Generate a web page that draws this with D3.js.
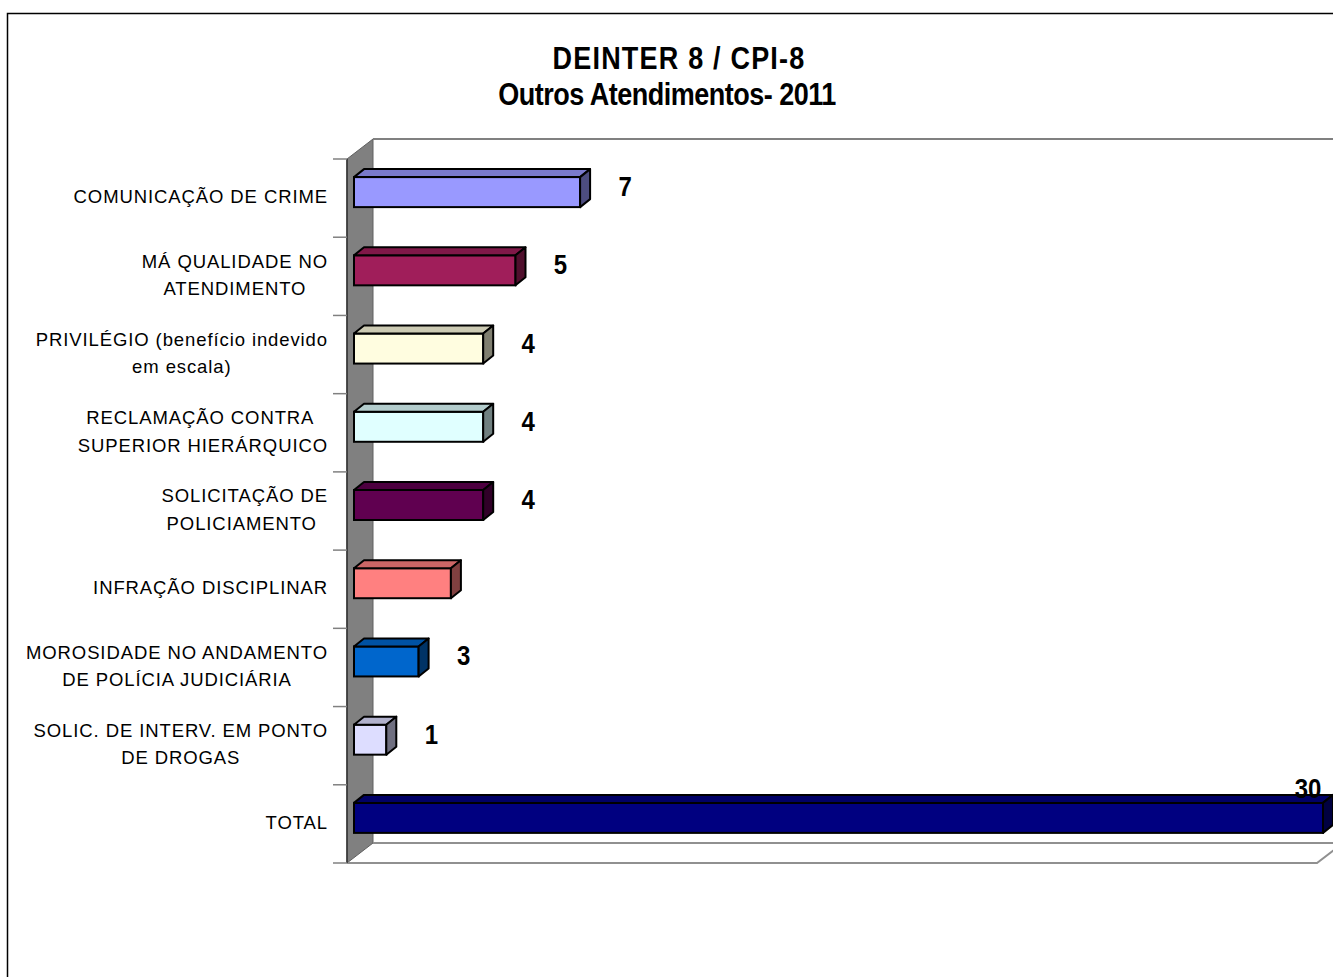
<!DOCTYPE html>
<html>
<head>
<meta charset="utf-8">
<script src="https://cdn.jsdelivr.net/npm/d3@7"></script>
<style>
  body { margin: 0; background: #fff; }
  svg text { font-family: "Liberation Sans", Arial, sans-serif; white-space: pre; }
</style>
</head>
<body>
<div id="drawingArea"></div>
<script>
// categories (line breaks as in the original labels)
var categories = [
    "COMUNICAÇÃO DE CRIME",
    "MÁ QUALIDADE NO\nATENDIMENTO",
    "PRIVILÉGIO (benefício indevido\nem escala)",
    "RECLAMAÇÃO CONTRA \nSUPERIOR HIERÁRQUICO",
    "SOLICITAÇÃO DE\nPOLICIAMENTO ",
    "INFRAÇÃO DISCIPLINAR",
    "MOROSIDADE NO ANDAMENTO\nDE POLÍCIA JUDICIÁRIA",
    "SOLIC. DE INTERV. EM PONTO\nDE DROGAS",
    "TOTAL"
];
var values = [7, 5, 4, 4, 4, 3, 2, 1, 30];
// data labels as printed; the one for INFRAÇÃO is hidden behind its bar
var valueLabels = ["7", "5", "4", "4", "4", "", "3", "1", "30"];
var colors = ["#9999FF", "#A01E5A", "#FFFDE0", "#E0FFFF", "#600050",
              "#FF8080", "#0066CC", "#DDDDFF", "#000080"];
var xMax = 30;

var width = 1333, height = 977;

var svg = d3.select("#drawingArea").append("svg")
    .attr("width", width)
    .attr("height", height);

// outer chart border (only top and left visible)
svg.append("path")
    .attr("d", "M7.5," + height + "V13.5H" + width)
    .attr("fill", "none")
    .attr("stroke", "#000")
    .attr("stroke-width", 1.5);

// title (glyphs a bit taller than wide, as in the original)
svg.append("text")
    .attr("transform", "translate(679,69) scale(1,1.13)")
    .attr("text-anchor", "middle")
    .style("font-size", "27px").style("font-weight", "bold")
    .style("letter-spacing", "1.2px")
    .text("DEINTER 8 / CPI-8");
svg.append("text")
    .attr("transform", "translate(667,105) scale(1,1.13)")
    .attr("text-anchor", "middle")
    .style("font-size", "27px").style("font-weight", "bold")
    .style("letter-spacing", "-0.5px")
    .text("Outros Atendimentos- 2011");

// scales
var axisX = 347;
var depth = {x: 26, y: -20};      // wall / floor depth
var barDepth = {x: 10, y: -8};    // bar depth

var y = d3.scaleBand()
    .domain(d3.range(categories.length))
    .range([159, 863]);

var x = d3.scaleLinear()
    .domain([0, xMax])
    .range([354, 1323]);

var top0 = y.range()[0], bot0 = y.range()[1];

// side wall
svg.append("path")
    .attr("d", "M" + axisX + "," + top0 +
               "L" + (axisX + depth.x) + "," + (top0 + depth.y) +
               "L" + (axisX + depth.x) + "," + (bot0 + depth.y) +
               "L" + axisX + "," + bot0 + "Z")
    .attr("fill", "#808080")
    .attr("stroke", "#606060")
    .attr("stroke-width", 1);

// back wall top edge
svg.append("line")
    .attr("x1", axisX + depth.x).attr("x2", width)
    .attr("y1", top0 + depth.y).attr("y2", top0 + depth.y)
    .attr("stroke", "#808080").attr("stroke-width", 2);

// floor
var floorRight = 1317;
svg.append("path")
    .attr("d", "M" + (axisX + depth.x) + "," + (bot0 + depth.y) +
               "H" + width +
               "M" + axisX + "," + bot0 +
               "H" + floorRight +
               "L" + (floorRight + depth.x) + "," + (bot0 + depth.y))
    .attr("fill", "none")
    .attr("stroke", "#909090").attr("stroke-width", 2);

// category axis
var axis = svg.append("g").attr("class", "axis");
axis.append("line")
    .attr("x1", axisX).attr("x2", axisX)
    .attr("y1", top0).attr("y2", bot0)
    .attr("stroke", "#303030").attr("stroke-width", 1.5);
axis.selectAll(".tick")
    .data(d3.range(categories.length + 1))
    .enter().append("line")
    .attr("class", "tick")
    .attr("x1", axisX - 14).attr("x2", axisX)
    .attr("y1", function(i) { return top0 + i * y.bandwidth(); })
    .attr("y2", function(i) { return top0 + i * y.bandwidth(); })
    .attr("stroke", "#808080").attr("stroke-width", 1.5);

// category labels: lines centred on each other, block right-aligned
var labelRight = 328, lineH = 27.5;
categories.forEach(function(c, i) {
    var lines = c.split("\n");
    var cy = y(i) + y.bandwidth() / 2;
    var t = svg.append("text")
        .style("font-size", "18.5px")
        .style("letter-spacing", "0.9px")
        .attr("fill", "#000");
    var spans = t.selectAll("tspan").data(lines).enter().append("tspan")
        .attr("y", function(d, k) { return cy + 5 + (k - (lines.length - 1) / 2) * lineH; })
        .text(function(d) { return d; });
    var maxW = 0;
    spans.each(function() { maxW = Math.max(maxW, this.getComputedTextLength()); });
    spans.attr("x", labelRight - maxW / 2).attr("text-anchor", "middle");
});

// bars
var barTop = -21, barH = 30;
var bars = svg.selectAll(".bar")
    .data(values)
    .enter().append("g")
    .attr("class", "bar");

bars.each(function(v, i) {
    var g = d3.select(this);
    var x0 = x(0), x1 = x(v);
    var t = y(i) + y.bandwidth() / 2 + barTop, b = t + barH;
    var c = d3.rgb(colors[i]);
    var shade = function(k) { return d3.rgb(c.r * k, c.g * k, c.b * k); };

    g.append("rect")
        .attr("x", x0).attr("y", t)
        .attr("width", x1 - x0).attr("height", barH)
        .attr("fill", c).attr("stroke", "#000").attr("stroke-width", 2);
    g.append("path")
        .attr("d", "M" + x0 + "," + t +
                   "L" + (x0 + barDepth.x) + "," + (t + barDepth.y) +
                   "L" + (x1 + barDepth.x) + "," + (t + barDepth.y) +
                   "L" + x1 + "," + t + "Z")
        .attr("fill", shade(0.8)).attr("stroke", "#000").attr("stroke-width", 2)
        .attr("stroke-linejoin", "round");
    g.append("path")
        .attr("d", "M" + x1 + "," + t +
                   "L" + (x1 + barDepth.x) + "," + (t + barDepth.y) +
                   "L" + (x1 + barDepth.x) + "," + (b + barDepth.y) +
                   "L" + x1 + "," + b + "Z")
        .attr("fill", shade(0.5)).attr("stroke", "#000").attr("stroke-width", 2)
        .attr("stroke-linejoin", "round");
});

// value labels
var labelMaxX = 1308;
svg.selectAll(".value")
    .data(values)
    .enter().append("text")
    .attr("class", "value")
    .attr("text-anchor", "middle")
    .style("font-size", "24px").style("font-weight", "bold")
    .attr("transform", function(v, i) {
        var cy = y(i) + y.bandwidth() / 2;
        var lx = Math.min(x(v) + 45, labelMaxX);
        var ly = (x(v) + 45 > labelMaxX) ? cy + barTop + barDepth.y + 3 : cy - 2;
        return "translate(" + lx + "," + ly + ") scale(1,1.13)";
    })
    .text(function(v, i) { return valueLabels[i]; });
</script>
</body>
</html>
